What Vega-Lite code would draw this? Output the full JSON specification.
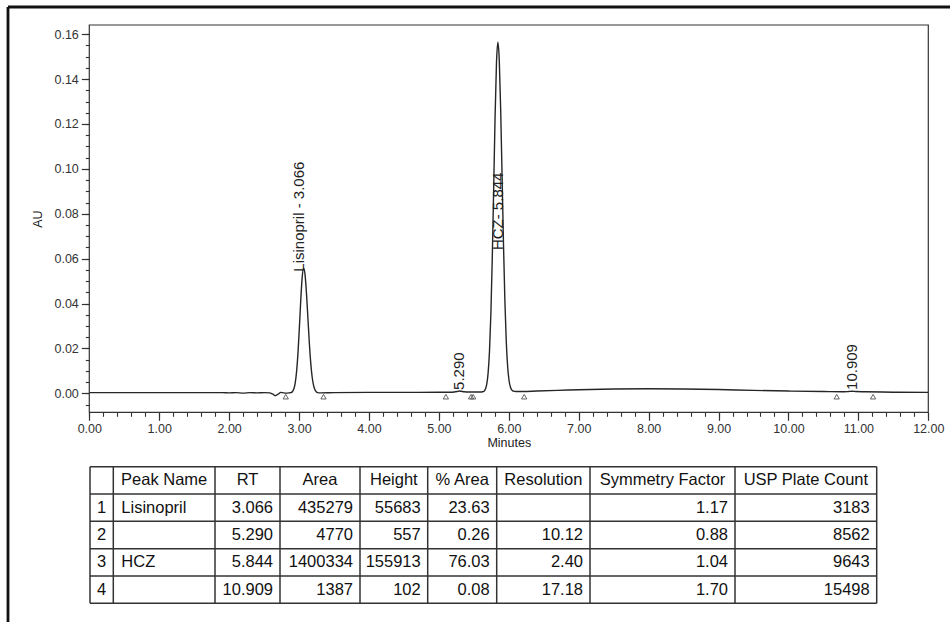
{
  "$schema": "https://vega.github.io/schema/vega-lite/v6.json",
  "width": 942,
  "height": 615,
  "autosize": {"type": "none"},
  "padding": {"left": 8, "top": 7, "right": 0, "bottom": 0},
  "background": "white",
  "config": {
    "font": "Liberation Sans",
    "view": {"stroke": "#111", "strokeWidth": 2.8, "strokeDash": [942, 1557, 615, 0]}
  },
  "datasets": {
    "trace": [
      {"t": 0, "a": 0.0003}, {"t": 0.5, "a": 0.0003}, {"t": 1.0, "a": 0.0003}, {"t": 1.5, "a": 0.0003},
      {"t": 1.9, "a": 0.0003}, {"t": 2.0, "a": 0.0002}, {"t": 2.1, "a": 0.0003}, {"t": 2.2, "a": 0.0001},
      {"t": 2.3, "a": 0.0003}, {"t": 2.4, "a": 0.0002}, {"t": 2.5, "a": 0.0003}, {"t": 2.58, "a": 0.0002},
      {"t": 2.62, "a": -0.0003}, {"t": 2.66, "a": -0.0011}, {"t": 2.7, "a": -0.0004}, {"t": 2.74, "a": 0.0004},
      {"t": 2.78, "a": 0.0002}, {"t": 2.82, "a": 0.0001}, {"t": 2.86, "a": 0.0002}, {"t": 2.886, "a": 0.0003},
      {"t": 2.906, "a": 0.0008}, {"t": 2.926, "a": 0.002}, {"t": 2.946, "a": 0.0048}, {"t": 2.966, "a": 0.0101},
      {"t": 2.986, "a": 0.0187}, {"t": 3.006, "a": 0.0301}, {"t": 3.026, "a": 0.0424}, {"t": 3.046, "a": 0.0521},
      {"t": 3.066, "a": 0.0557}, {"t": 3.086, "a": 0.0528}, {"t": 3.106, "a": 0.0447}, {"t": 3.126, "a": 0.0339},
      {"t": 3.146, "a": 0.023}, {"t": 3.166, "a": 0.014}, {"t": 3.186, "a": 0.0076}, {"t": 3.206, "a": 0.0038},
      {"t": 3.226, "a": 0.0017}, {"t": 3.246, "a": 0.0007}, {"t": 3.266, "a": 0.0003}, {"t": 3.3, "a": 0.0002},
      {"t": 3.5, "a": 0.0003}, {"t": 4.0, "a": 0.0004}, {"t": 4.5, "a": 0.0004}, {"t": 5.0, "a": 0.0005},
      {"t": 5.15, "a": 0.0005}, {"t": 5.22, "a": 0.0006}, {"t": 5.26, "a": 0.0008}, {"t": 5.29, "a": 0.001},
      {"t": 5.32, "a": 0.0009}, {"t": 5.36, "a": 0.0007}, {"t": 5.44, "a": 0.0006}, {"t": 5.54, "a": 0.0006},
      {"t": 5.604, "a": 0.0006}, {"t": 5.624, "a": 0.0007}, {"t": 5.644, "a": 0.0009}, {"t": 5.664, "a": 0.0018},
      {"t": 5.684, "a": 0.004}, {"t": 5.704, "a": 0.009}, {"t": 5.724, "a": 0.0188}, {"t": 5.744, "a": 0.0358},
      {"t": 5.764, "a": 0.0607}, {"t": 5.784, "a": 0.0918}, {"t": 5.804, "a": 0.1234}, {"t": 5.824, "a": 0.1474},
      {"t": 5.844, "a": 0.1564}, {"t": 5.864, "a": 0.1482}, {"t": 5.884, "a": 0.1262}, {"t": 5.904, "a": 0.0966},
      {"t": 5.924, "a": 0.0665}, {"t": 5.944, "a": 0.0412}, {"t": 5.964, "a": 0.023}, {"t": 5.984, "a": 0.0117},
      {"t": 6.004, "a": 0.0056}, {"t": 6.024, "a": 0.0027}, {"t": 6.044, "a": 0.0014}, {"t": 6.064, "a": 0.001},
      {"t": 6.1, "a": 0.0008}, {"t": 6.2, "a": 0.0008}, {"t": 6.4, "a": 0.001}, {"t": 6.7, "a": 0.0013},
      {"t": 7.0, "a": 0.0016}, {"t": 7.5, "a": 0.0019}, {"t": 8.0, "a": 0.002}, {"t": 8.5, "a": 0.0019},
      {"t": 9.0, "a": 0.0017}, {"t": 9.5, "a": 0.0013}, {"t": 10.0, "a": 0.001}, {"t": 10.5, "a": 0.0008},
      {"t": 10.8, "a": 0.0007}, {"t": 10.86, "a": 0.0008}, {"t": 10.909, "a": 0.0009}, {"t": 10.96, "a": 0.0008},
      {"t": 11.1, "a": 0.0007}, {"t": 11.5, "a": 0.0005}, {"t": 12.0, "a": 0.0004}
    ],
    "events": [
      {"t": 2.81}, {"t": 3.35}, {"t": 5.1}, {"t": 5.46}, {"t": 5.49}, {"t": 6.22}, {"t": 10.69}, {"t": 11.21}
    ],
    "peaks": [
      {"n": 1, "name": "Lisinopril", "rt": 3.066, "area": 435279, "height": 55683, "pct": 23.63, "res": null, "sym": 1.17, "usp": 3183, "label": "Lisinopril - 3.066"},
      {"n": 2, "name": null, "rt": 5.29, "area": 4770, "height": 557, "pct": 0.26, "res": 10.12, "sym": 0.88, "usp": 8562, "label": "5.290"},
      {"n": 3, "name": "HCZ", "rt": 5.844, "area": 1400334, "height": 155913, "pct": 76.03, "res": 2.4, "sym": 1.04, "usp": 9643, "label": "HCZ- 5.844"},
      {"n": 4, "name": null, "rt": 10.909, "area": 1387, "height": 102, "pct": 0.08, "res": 17.18, "sym": 1.7, "usp": 15498, "label": "10.909"}
    ]
  },
  "layer": [
    {
      "data": {"name": "trace"},
      "mark": {"type": "line", "color": "#262626", "strokeWidth": 1.4, "interpolate": "monotone"},
      "encoding": {
        "x": {
          "field": "t", "type": "quantitative",
          "scale": {"domain": [0, 12], "range": [81.3, 920.3], "nice": false, "zero": false},
          "axis": {
            "orient": "bottom", "offset": -209.7,
            "values": [0, 1, 2, 3, 4, 5, 6, 7, 8, 9, 10, 11, 12],
            "format": ".2f", "tickSize": 8,
            "tickColor": "#333", "tickWidth": 1.2, "domain": false, "grid": false,
            "labelColor": "#333", "labelFontSize": 12.5, "labelPadding": 2,
            "labelFlush": false, "labelOverlap": false,
            "title": "Minutes", "titleFontSize": 12.5, "titleFontWeight": "normal", "titleColor": "#222", "titlePadding": 2
          }
        },
        "y": {
          "field": "a", "type": "quantitative",
          "scale": {"domain": [-0.00846, 0.1641], "range": [405.3, 18], "nice": false, "zero": false},
          "axis": {
            "orient": "left", "offset": -81.3,
            "values": [0, 0.02, 0.04, 0.06, 0.08, 0.1, 0.12, 0.14, 0.16],
            "format": ".2f", "tickSize": 8,
            "tickColor": "#333", "tickWidth": 1.2, "domain": false, "grid": false,
            "labelColor": "#333", "labelFontSize": 12.5, "labelPadding": 3, "labelOverlap": false,
            "title": "AU", "titleFontSize": 12.5, "titleFontWeight": "normal", "titleColor": "#222", "titlePadding": 9
          }
        }
      }
    },
    {
      "data": {"values": [{}]},
      "mark": {"type": "rect", "fillOpacity": 0, "stroke": "#333", "strokeWidth": 1.2},
      "encoding": {
        "x": {"datum": 0, "type": "quantitative",
              "scale": {"domain": [0, 12], "range": [81.3, 920.3], "nice": false, "zero": false},
              "axis": {
                "orient": "bottom", "offset": -209.7,
                "values": [0,0.2,0.4,0.6,0.8,1,1.2,1.4,1.6,1.8,2,2.2,2.4,2.6,2.8,3,3.2,3.4,3.6,3.8,4,4.2,4.4,4.6,4.8,5,5.2,5.4,5.6,5.8,6,6.2,6.4,6.6,6.8,7,7.2,7.4,7.6,7.8,8,8.2,8.4,8.6,8.8,9,9.2,9.4,9.6,9.8,10,10.2,10.4,10.6,10.8,11,11.2,11.4,11.6,11.8,12],
                "tickSize": 4, "tickColor": "#333", "tickWidth": 1.1, "labels": false, "domain": false, "grid": false, "title": null
              }},
        "x2": {"datum": 12},
        "y": {"datum": -0.00846, "type": "quantitative",
              "scale": {"domain": [-0.00846, 0.1641], "range": [405.3, 18], "nice": false, "zero": false},
              "axis": {
                "orient": "left", "offset": -81.3,
                "values": [-0.005,0,0.005,0.01,0.015,0.02,0.025,0.03,0.035,0.04,0.045,0.05,0.055,0.06,0.065,0.07,0.075,0.08,0.085,0.09,0.095,0.1,0.105,0.11,0.115,0.12,0.125,0.13,0.135,0.14,0.145,0.15,0.155,0.16],
                "tickSize": 4, "tickColor": "#333", "tickWidth": 1.1, "labels": false, "domain": false, "grid": false, "title": null
              }},
        "y2": {"datum": 0.1641}
      }
    },
    {
      "data": {"name": "events"},
      "mark": {"type": "point", "shape": "triangle-up", "size": 28, "filled": false, "color": "#555", "strokeWidth": 0.9, "opacity": 1},
      "encoding": {
        "x": {"field": "t", "type": "quantitative", "axis": null,
              "scale": {"domain": [0, 12], "range": [81.3, 920.3], "nice": false, "zero": false}},
        "y": {"datum": -0.0015, "type": "quantitative", "axis": null,
              "scale": {"domain": [-0.00846, 0.1641], "range": [405.3, 18], "nice": false, "zero": false}}
      }
    },
    {
      "data": {"name": "peaks"},
      "transform": [{"filter": "datum.n == 1"}],
      "mark": {"type": "text", "angle": 270, "align": "left", "baseline": "alphabetic", "fontSize": 15, "color": "#222"},
      "encoding": {
        "x": {"field": "rt", "type": "quantitative", "axis": null,
              "scale": {"domain": [0, 12], "range": [81.3, 920.3], "nice": false, "zero": false}},
        "y": {"datum": 0.0542, "type": "quantitative", "axis": null,
              "scale": {"domain": [-0.00846, 0.1641], "range": [405.3, 18], "nice": false, "zero": false}},
        "text": {"field": "label"}
      }
    },
    {
      "data": {"name": "peaks"},
      "transform": [{"filter": "datum.n == 3"}],
      "mark": {"type": "text", "angle": 270, "align": "left", "baseline": "middle", "fontSize": 15, "color": "#222"},
      "encoding": {
        "x": {"field": "rt", "type": "quantitative", "axis": null,
              "scale": {"domain": [0, 12], "range": [81.3, 920.3], "nice": false, "zero": false}},
        "y": {"datum": 0.0638, "type": "quantitative", "axis": null,
              "scale": {"domain": [-0.00846, 0.1641], "range": [405.3, 18], "nice": false, "zero": false}},
        "text": {"field": "label"}
      }
    },
    {
      "data": {"name": "peaks"},
      "transform": [{"filter": "datum.n == 2 || datum.n == 4"}],
      "mark": {"type": "text", "angle": 270, "align": "left", "baseline": "middle", "fontSize": 15, "color": "#222"},
      "encoding": {
        "x": {"field": "rt", "type": "quantitative", "axis": null,
              "scale": {"domain": [0, 12], "range": [81.3, 920.3], "nice": false, "zero": false}},
        "y": {"datum": 0.0015, "type": "quantitative", "axis": null,
              "scale": {"domain": [-0.00846, 0.1641], "range": [405.3, 18], "nice": false, "zero": false}},
        "text": {"field": "label"}
      }
    },
    {
      "data": {"values": [{}]},
      "layer": [
        {
          "mark": {"type": "rule", "color": "#333", "strokeWidth": 1.5},
          "encoding": {
            "x": {"datum": 0, "type": "quantitative", "axis": null,
                  "scale": {"domain": [0, 1, 2, 3, 4, 5, 6, 7, 8, 9], "range": [82, 105.3, 207, 272, 352, 419.7, 488.7, 582, 727, 868.7], "nice": false, "zero": false}},
            "x2": {"datum": 9},
            "y": {"datum": -0.5, "type": "quantitative", "axis": null,
                  "scale": {"domain": [-0.5, 4.5], "range": [459.7, 596.3], "nice": false, "zero": false}}
          }
        },
        {"mark": {"type": "rule", "color": "#333", "strokeWidth": 1.5}, "encoding": {"x": {"datum": 0, "type": "quantitative", "axis": null}, "x2": {"datum": 9}, "y": {"datum": 0.5, "type": "quantitative", "axis": null}}},
        {"mark": {"type": "rule", "color": "#333", "strokeWidth": 1.5}, "encoding": {"x": {"datum": 0, "type": "quantitative", "axis": null}, "x2": {"datum": 9}, "y": {"datum": 1.5, "type": "quantitative", "axis": null}}},
        {"mark": {"type": "rule", "color": "#333", "strokeWidth": 1.5}, "encoding": {"x": {"datum": 0, "type": "quantitative", "axis": null}, "x2": {"datum": 9}, "y": {"datum": 2.5, "type": "quantitative", "axis": null}}},
        {"mark": {"type": "rule", "color": "#333", "strokeWidth": 1.5}, "encoding": {"x": {"datum": 0, "type": "quantitative", "axis": null}, "x2": {"datum": 9}, "y": {"datum": 3.5, "type": "quantitative", "axis": null}}},
        {"mark": {"type": "rule", "color": "#333", "strokeWidth": 1.5}, "encoding": {"x": {"datum": 0, "type": "quantitative", "axis": null}, "x2": {"datum": 9}, "y": {"datum": 4.5, "type": "quantitative", "axis": null}}},
        {"mark": {"type": "rule", "color": "#333", "strokeWidth": 1.5}, "encoding": {"x": {"datum": 0, "type": "quantitative", "axis": null}, "y": {"datum": -0.5, "type": "quantitative", "axis": null}, "y2": {"datum": 4.5}}},
        {"mark": {"type": "rule", "color": "#333", "strokeWidth": 1.5}, "encoding": {"x": {"datum": 1, "type": "quantitative", "axis": null}, "y": {"datum": -0.5, "type": "quantitative", "axis": null}, "y2": {"datum": 4.5}}},
        {"mark": {"type": "rule", "color": "#333", "strokeWidth": 1.5}, "encoding": {"x": {"datum": 2, "type": "quantitative", "axis": null}, "y": {"datum": -0.5, "type": "quantitative", "axis": null}, "y2": {"datum": 4.5}}},
        {"mark": {"type": "rule", "color": "#333", "strokeWidth": 1.5}, "encoding": {"x": {"datum": 3, "type": "quantitative", "axis": null}, "y": {"datum": -0.5, "type": "quantitative", "axis": null}, "y2": {"datum": 4.5}}},
        {"mark": {"type": "rule", "color": "#333", "strokeWidth": 1.5}, "encoding": {"x": {"datum": 4, "type": "quantitative", "axis": null}, "y": {"datum": -0.5, "type": "quantitative", "axis": null}, "y2": {"datum": 4.5}}},
        {"mark": {"type": "rule", "color": "#333", "strokeWidth": 1.5}, "encoding": {"x": {"datum": 5, "type": "quantitative", "axis": null}, "y": {"datum": -0.5, "type": "quantitative", "axis": null}, "y2": {"datum": 4.5}}},
        {"mark": {"type": "rule", "color": "#333", "strokeWidth": 1.5}, "encoding": {"x": {"datum": 6, "type": "quantitative", "axis": null}, "y": {"datum": -0.5, "type": "quantitative", "axis": null}, "y2": {"datum": 4.5}}},
        {"mark": {"type": "rule", "color": "#333", "strokeWidth": 1.5}, "encoding": {"x": {"datum": 7, "type": "quantitative", "axis": null}, "y": {"datum": -0.5, "type": "quantitative", "axis": null}, "y2": {"datum": 4.5}}},
        {"mark": {"type": "rule", "color": "#333", "strokeWidth": 1.5}, "encoding": {"x": {"datum": 8, "type": "quantitative", "axis": null}, "y": {"datum": -0.5, "type": "quantitative", "axis": null}, "y2": {"datum": 4.5}}},
        {"mark": {"type": "rule", "color": "#333", "strokeWidth": 1.5}, "encoding": {"x": {"datum": 9, "type": "quantitative", "axis": null}, "y": {"datum": -0.5, "type": "quantitative", "axis": null}, "y2": {"datum": 4.5}}},
        {"mark": {"type": "text", "fontSize": 16.5, "color": "#111", "align": "center", "baseline": "middle"}, "encoding": {"x": {"datum": 1.5, "type": "quantitative", "axis": null}, "y": {"datum": 0, "type": "quantitative", "axis": null}, "text": {"value": "Peak Name"}}},
        {"mark": {"type": "text", "fontSize": 16.5, "color": "#111", "align": "center", "baseline": "middle"}, "encoding": {"x": {"datum": 2.5, "type": "quantitative", "axis": null}, "y": {"datum": 0, "type": "quantitative", "axis": null}, "text": {"value": "RT"}}},
        {"mark": {"type": "text", "fontSize": 16.5, "color": "#111", "align": "center", "baseline": "middle"}, "encoding": {"x": {"datum": 3.5, "type": "quantitative", "axis": null}, "y": {"datum": 0, "type": "quantitative", "axis": null}, "text": {"value": "Area"}}},
        {"mark": {"type": "text", "fontSize": 16.5, "color": "#111", "align": "center", "baseline": "middle"}, "encoding": {"x": {"datum": 4.5, "type": "quantitative", "axis": null}, "y": {"datum": 0, "type": "quantitative", "axis": null}, "text": {"value": "Height"}}},
        {"mark": {"type": "text", "fontSize": 16.5, "color": "#111", "align": "center", "baseline": "middle"}, "encoding": {"x": {"datum": 5.5, "type": "quantitative", "axis": null}, "y": {"datum": 0, "type": "quantitative", "axis": null}, "text": {"value": "% Area"}}},
        {"mark": {"type": "text", "fontSize": 16.5, "color": "#111", "align": "center", "baseline": "middle"}, "encoding": {"x": {"datum": 6.5, "type": "quantitative", "axis": null}, "y": {"datum": 0, "type": "quantitative", "axis": null}, "text": {"value": "Resolution"}}},
        {"mark": {"type": "text", "fontSize": 16.5, "color": "#111", "align": "center", "baseline": "middle"}, "encoding": {"x": {"datum": 7.5, "type": "quantitative", "axis": null}, "y": {"datum": 0, "type": "quantitative", "axis": null}, "text": {"value": "Symmetry Factor"}}},
        {"mark": {"type": "text", "fontSize": 16.5, "color": "#111", "align": "center", "baseline": "middle"}, "encoding": {"x": {"datum": 8.5, "type": "quantitative", "axis": null}, "y": {"datum": 0, "type": "quantitative", "axis": null}, "text": {"value": "USP Plate Count"}}},
        {"data": {"name": "peaks"}, "mark": {"type": "text", "fontSize": 16.5, "color": "#111", "align": "center", "baseline": "middle"}, "encoding": {"x": {"datum": 0.5, "type": "quantitative", "axis": null}, "y": {"field": "n", "type": "quantitative", "axis": null}, "text": {"field": "n", "type": "nominal"}}},
        {"data": {"name": "peaks"}, "transform": [{"filter": "isValid(datum.name)"}], "mark": {"type": "text", "fontSize": 16.5, "color": "#111", "align": "left", "baseline": "middle", "dx": 8}, "encoding": {"x": {"datum": 1, "type": "quantitative", "axis": null}, "y": {"field": "n", "type": "quantitative", "axis": null}, "text": {"field": "name"}}},
        {"data": {"name": "peaks"}, "mark": {"type": "text", "fontSize": 16.5, "color": "#111", "align": "right", "baseline": "middle", "dx": -7}, "encoding": {"x": {"datum": 3, "type": "quantitative", "axis": null}, "y": {"field": "n", "type": "quantitative", "axis": null}, "text": {"field": "rt", "type": "quantitative", "format": ".3f"}}},
        {"data": {"name": "peaks"}, "mark": {"type": "text", "fontSize": 16.5, "color": "#111", "align": "right", "baseline": "middle", "dx": -7}, "encoding": {"x": {"datum": 4, "type": "quantitative", "axis": null}, "y": {"field": "n", "type": "quantitative", "axis": null}, "text": {"field": "area", "type": "quantitative", "format": "d"}}},
        {"data": {"name": "peaks"}, "mark": {"type": "text", "fontSize": 16.5, "color": "#111", "align": "right", "baseline": "middle", "dx": -7}, "encoding": {"x": {"datum": 5, "type": "quantitative", "axis": null}, "y": {"field": "n", "type": "quantitative", "axis": null}, "text": {"field": "height", "type": "quantitative", "format": "d"}}},
        {"data": {"name": "peaks"}, "mark": {"type": "text", "fontSize": 16.5, "color": "#111", "align": "right", "baseline": "middle", "dx": -7}, "encoding": {"x": {"datum": 6, "type": "quantitative", "axis": null}, "y": {"field": "n", "type": "quantitative", "axis": null}, "text": {"field": "pct", "type": "quantitative", "format": ".2f"}}},
        {"data": {"name": "peaks"}, "transform": [{"filter": "isValid(datum.res)"}], "mark": {"type": "text", "fontSize": 16.5, "color": "#111", "align": "right", "baseline": "middle", "dx": -7}, "encoding": {"x": {"datum": 7, "type": "quantitative", "axis": null}, "y": {"field": "n", "type": "quantitative", "axis": null}, "text": {"field": "res", "type": "quantitative", "format": ".2f"}}},
        {"data": {"name": "peaks"}, "mark": {"type": "text", "fontSize": 16.5, "color": "#111", "align": "right", "baseline": "middle", "dx": -7}, "encoding": {"x": {"datum": 8, "type": "quantitative", "axis": null}, "y": {"field": "n", "type": "quantitative", "axis": null}, "text": {"field": "sym", "type": "quantitative", "format": ".2f"}}},
        {"data": {"name": "peaks"}, "mark": {"type": "text", "fontSize": 16.5, "color": "#111", "align": "right", "baseline": "middle", "dx": -7}, "encoding": {"x": {"datum": 9, "type": "quantitative", "axis": null}, "y": {"field": "n", "type": "quantitative", "axis": null}, "text": {"field": "usp", "type": "quantitative", "format": "d"}}}
      ]
    }
  ],
  "resolve": {"scale": {"x": "independent", "y": "independent"}, "axis": {"x": "independent", "y": "independent"}}
}
